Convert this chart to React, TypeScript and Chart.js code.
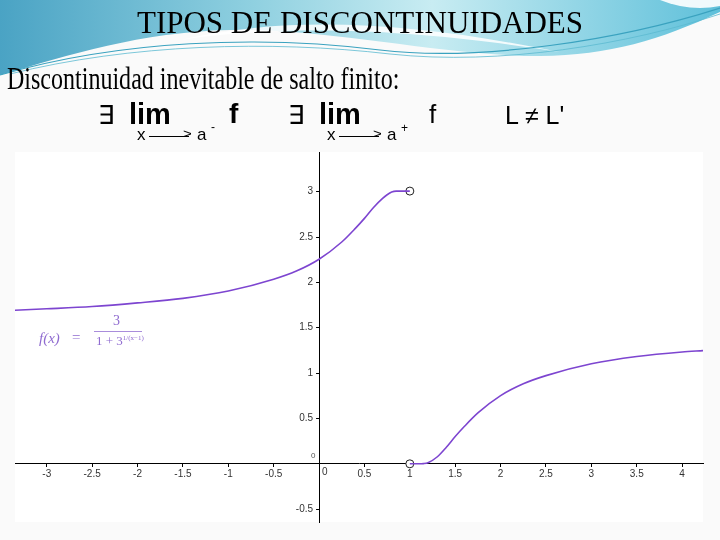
import React, { useEffect, useRef } from "react";
import { Chart, registerables } from "chart.js";

Chart.register(...registerables);

// Left branch (x < 1)
const leftX = [-3.35, -3, -2.5, -2, -1.5, -1, -0.5, -0.25, 0, 0.25, 0.4, 0.5, 0.6, 0.7, 0.75, 0.8, 0.85, 0.9, 1];
const leftY = [1.69, 1.705, 1.73, 1.77, 1.82, 1.9, 2.03, 2.12, 2.25, 2.44, 2.59, 2.7, 2.82, 2.92, 2.96, 2.99, 3.0, 3.0, 3.0];
// Right branch (x > 1)
const rightX = [1, 1.1, 1.15, 1.2, 1.3, 1.4, 1.5, 1.6, 1.75, 2, 2.25, 2.5, 3, 3.5, 4, 4.23];
const rightY = [0, 0, 0.002, 0.012, 0.075, 0.18, 0.3, 0.41, 0.56, 0.75, 0.88, 0.97, 1.1, 1.18, 1.23, 1.245];
// Open circles at the jump
const holeX = [1, 1];
const holeY = [3, 0];

const X_MIN = -3.35;
const X_MAX = 4.23;
const Y_MIN = -0.64;
const Y_MAX = 3.43;

const CURVE = "#7d45d0";

const whiteArea = {
  id: "whiteArea",
  beforeDraw(chart: any) {
    const { ctx, chartArea } = chart;
    ctx.save();
    ctx.fillStyle = "#ffffff";
    ctx.fillRect(chartArea.left, chartArea.top, chartArea.right - chartArea.left, chartArea.bottom - chartArea.top);
    ctx.restore();
  },
};

// y-axis labels drawn left of the axis that crosses at x = 0
const yLabels = {
  id: "yLabels",
  afterDraw(chart: any) {
    const { ctx } = chart;
    const xs = chart.scales.x;
    const ys = chart.scales.y;
    const ax = xs.getPixelForValue(0);
    ctx.save();
    ctx.font = "10px 'Liberation Sans', Arial, sans-serif";
    ctx.fillStyle = "#333";
    ctx.textAlign = "right";
    ctx.textBaseline = "middle";
    ctx.strokeStyle = "#000";
    ctx.lineWidth = 1;
    ys.ticks.forEach((t: any) => {
      const v = Number(t.value);
      if (Math.abs(v) < 1e-9) return;
      const py = Math.round(ys.getPixelForValue(v)) + 0.5;
      ctx.beginPath();
      ctx.moveTo(ax - 3, py);
      ctx.lineTo(ax, py);
      ctx.stroke();
      ctx.fillText(String(v), ax - 6, py);
    });
    ctx.restore();
  },
};

function zip(xs: number[], ys: number[]) {
  return xs.map((x, i) => ({ x, y: ys[i] }));
}

export default function App() {
  const ref = useRef<HTMLCanvasElement>(null);

  useEffect(() => {
    document.body.style.margin = "0";
    const chart = new Chart(ref.current!, {
      type: "scatter",
      data: {
        datasets: [
          {
            data: zip(leftX, leftY),
            showLine: true,
            borderColor: CURVE,
            borderWidth: 1.6,
            pointRadius: 0,
            cubicInterpolationMode: "monotone",
          },
          {
            data: zip(rightX, rightY),
            showLine: true,
            borderColor: CURVE,
            borderWidth: 1.6,
            pointRadius: 0,
            cubicInterpolationMode: "monotone",
          },
          {
            data: zip(holeX, holeY),
            showLine: false,
            pointRadius: 4,
            pointBackgroundColor: "#ffffff",
            pointBorderColor: "#222222",
            pointBorderWidth: 1,
          },
        ],
      },
      options: {
        animation: false,
        responsive: false,
        layout: { padding: { left: 15, top: 152, right: 17, bottom: 18 } },
        plugins: { legend: { display: false }, tooltip: { enabled: false }, title: { display: false } },
        scales: {
          x: {
            type: "linear",
            min: X_MIN,
            max: X_MAX,
            position: { y: 0 },
            border: { color: "#000", width: 1 },
            grid: { drawOnChartArea: false, drawTicks: true, tickLength: 3, color: "#000" },
            ticks: {
              stepSize: 0.5,
              includeBounds: false,
              autoSkip: false,
              maxRotation: 0,
              padding: 1,
              color: "#333",
              font: { family: "Liberation Sans, Arial", size: 10 },
              callback: (v: any) => (Math.abs(Number(v)) < 1e-9 ? "" : String(Number(v))),
            },
          },
          y: {
            type: "linear",
            min: Y_MIN,
            max: Y_MAX,
            position: { x: 0 },
            border: { color: "#000", width: 1 },
            grid: { drawOnChartArea: false, drawTicks: false, color: "#000" },
            ticks: {
              display: false,
              stepSize: 0.5,
              includeBounds: false,
              autoSkip: false,
            },
          },
        },
      },
      plugins: [whiteArea, yLabels],
    } as any);
    return () => chart.destroy();
  }, []);

  const abs = (s: React.CSSProperties): React.CSSProperties => ({ position: "absolute", whiteSpace: "nowrap", ...s });
  const sans = "'Liberation Sans', Arial, sans-serif";
  const serif = "'Liberation Serif', 'Times New Roman', serif";

  const arrow = (left: number, sup: string) => (
    <>
      <div style={abs({ left, top: 126, fontFamily: sans, fontSize: 17, lineHeight: "17px" })}>x</div>
      <div style={abs({ left: left + 12, top: 135.5, width: 40, height: 1.6, background: "#000" })} />
      <div style={abs({ left: left + 46, top: 125, fontFamily: sans, fontSize: 15, lineHeight: "17px", transform: "scaleY(0.8)" })}>&gt;</div>
      <div style={abs({ left: left + 60, top: 126, fontFamily: sans, fontSize: 17, lineHeight: "17px" })}>a</div>
      <div style={abs({ left: left + 74, top: sup === "+" ? 122 : 121, fontFamily: sans, fontSize: 12, lineHeight: "12px" })}>{sup}</div>
    </>
  );

  return (
    <div style={{ position: "fixed", left: 0, top: 0, width: 720, height: 540, overflow: "hidden", background: "#fafafa" }}>
      <svg width={720} height={540} style={{ position: "absolute", left: 0, top: 0 }}>
        <defs>
          <linearGradient id="tealL" x1="0" y1="0" x2="1" y2="0">
            <stop offset="0" stopColor="#4aa3c4" />
            <stop offset="0.35" stopColor="#8fd0e0" />
            <stop offset="0.6" stopColor="#c8ecf2" />
            <stop offset="1" stopColor="#5fc0da" />
          </linearGradient>
        </defs>
        <path d="M0,0 L720,0 L720,12 C660,40 610,55 540,56 C440,56 330,28 230,30 C140,32 70,55 0,75 Z" fill="url(#tealL)" />
        <path d="M180,40 C300,12 430,26 560,52 C480,40 330,18 180,40 Z" fill="#ffffff" opacity="0.85" />
        <path d="M660,0 L720,0 L720,6 C700,10 680,8 660,0 Z" fill="#ffffff" opacity="0.9" />
        <path d="M0,75 C120,40 260,35 380,50 C480,62 620,40 720,8" stroke="#3aa2bf" strokeWidth="1.2" fill="none" />
        <path d="M10,74 C130,44 270,40 390,54 C500,66 630,44 720,14" stroke="#5cbad0" strokeWidth="0.8" fill="none" />
      </svg>
      <canvas ref={ref} width={720} height={540} style={{ position: "absolute", left: 0, top: 0 }} />

      <div style={abs({ left: 0, width: 720, top: 7, textAlign: "center", fontFamily: serif, fontSize: 31, lineHeight: "31px", color: "#000" })}>
        TIPOS DE DISCONTINUIDADES
      </div>
      <div style={abs({ left: 7, top: 63, fontFamily: serif, fontSize: 31, lineHeight: "31px", color: "#000", transform: "scaleX(0.775)", transformOrigin: "0 0" })}>
        Discontinuidad inevitable de salto finito:
      </div>

      <div style={abs({ left: 98, top: 101, fontFamily: sans, fontSize: 26, lineHeight: "28px" })}>∃</div>
      <div style={abs({ left: 129, top: 100, fontFamily: sans, fontWeight: "bold", fontSize: 29, lineHeight: "28px" })}>lim</div>
      <div style={abs({ left: 229, top: 100, fontFamily: sans, fontWeight: "bold", fontSize: 28, lineHeight: "28px" })}>f</div>
      {arrow(137, "-")}

      <div style={abs({ left: 288, top: 101, fontFamily: sans, fontSize: 26, lineHeight: "28px" })}>∃</div>
      <div style={abs({ left: 319, top: 100, fontFamily: sans, fontWeight: "bold", fontSize: 29, lineHeight: "28px" })}>lim</div>
      <div style={abs({ left: 429, top: 100, fontFamily: sans, fontSize: 26, lineHeight: "28px" })}>f</div>
      {arrow(327, "+")}

      <div style={abs({ left: 505, top: 101, fontFamily: sans, fontSize: 25, lineHeight: "28px" })}>L ≠ L'</div>

      <div style={abs({ left: 311, top: 451, fontFamily: sans, fontSize: 8, color: "#555" })}>0</div>
      <div style={abs({ left: 322, top: 466, fontFamily: sans, fontSize: 10, color: "#333" })}>0</div>

      <div style={abs({ left: 39, top: 330, fontFamily: serif, fontStyle: "italic", fontSize: 15, color: "#8f6bd0" })}>f(x)</div>
      <div style={abs({ left: 72, top: 329, fontFamily: serif, fontSize: 15, color: "#8f6bd0" })}>=</div>
      <div style={abs({ left: 113, top: 313, fontFamily: serif, fontSize: 14, color: "#8f6bd0" })}>3</div>
      <div style={abs({ left: 94, top: 331, width: 48, height: 1, background: "#a98ddb" })} />
      <div style={abs({ left: 96, top: 333, fontFamily: serif, fontSize: 13, color: "#8f6bd0" })}>
        1 + 3<sup style={{ fontSize: 7, verticalAlign: "5px" }}>1/(x−1)</sup>
      </div>
    </div>
  );
}
